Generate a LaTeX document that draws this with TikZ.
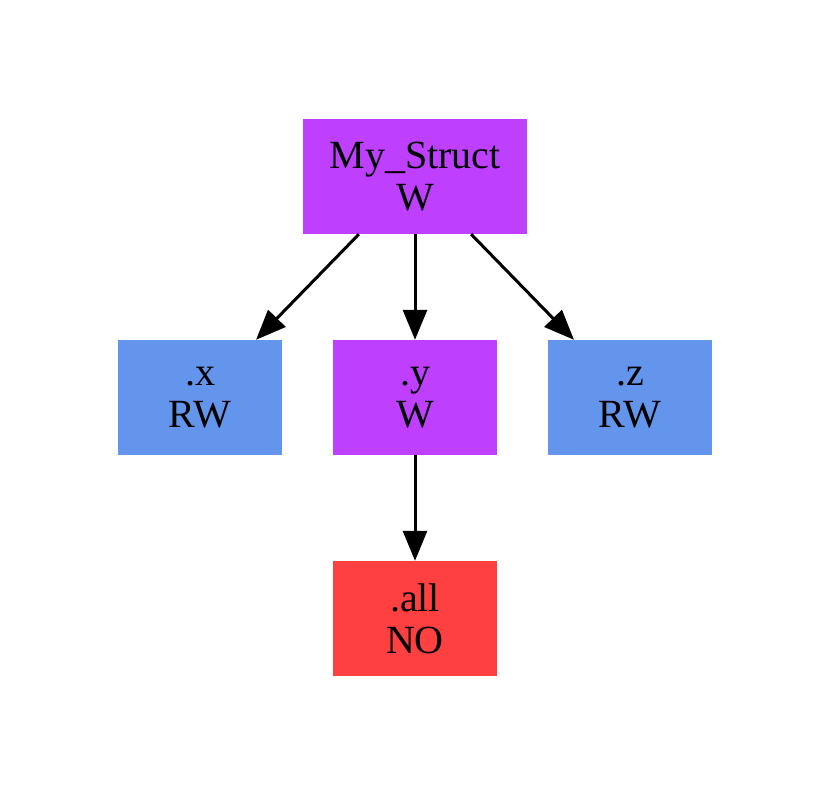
\documentclass[tikz,border=0pt]{standalone}
\usepackage{fontspec}
\setmainfont{Liberation Serif}
\usetikzlibrary{arrows.meta, positioning}
\definecolor{FieldPurple}{HTML}{BF3FFF}
\definecolor{FieldBlue}{HTML}{6495ED}
\definecolor{FieldRed}{HTML}{FF4040}

\tikzset{
    field/.style={rectangle, draw=none, minimum width=164pt, minimum height=115pt,
        inner sep=0pt, align=center, font=\fontsize{40pt}{42pt}\selectfont},
    link/.style={-{Triangle[length=30pt, width=24pt]}, line width=3pt, black}
}

\begin{document}
\begin{tikzpicture}[x=1pt, y=-1pt]
    \useasboundingbox (0,0) rectangle (830,795);

    % struct and its fields
    \node[field, fill=FieldPurple, minimum width=224pt] (mystruct) at (415,176.5) {My\_Struct\\W};
    \node[field, fill=FieldBlue] (fx) at (200,397.5) {.x\\RW};
    \node[field, fill=FieldPurple] (fy) at (415,397.5) {.y\\W};
    \node[field, fill=FieldBlue] (fz) at (630,397.5) {.z\\RW};
    \node[field, fill=FieldRed] (fall) at (415,618.5) {.all\\NO};

    \draw[link] (mystruct) -- (fx);
    \draw[link] (mystruct) -- (fy);
    \draw[link] (mystruct) -- (fz);
    \draw[link] (fy) -- (fall);
\end{tikzpicture}
\end{document}
